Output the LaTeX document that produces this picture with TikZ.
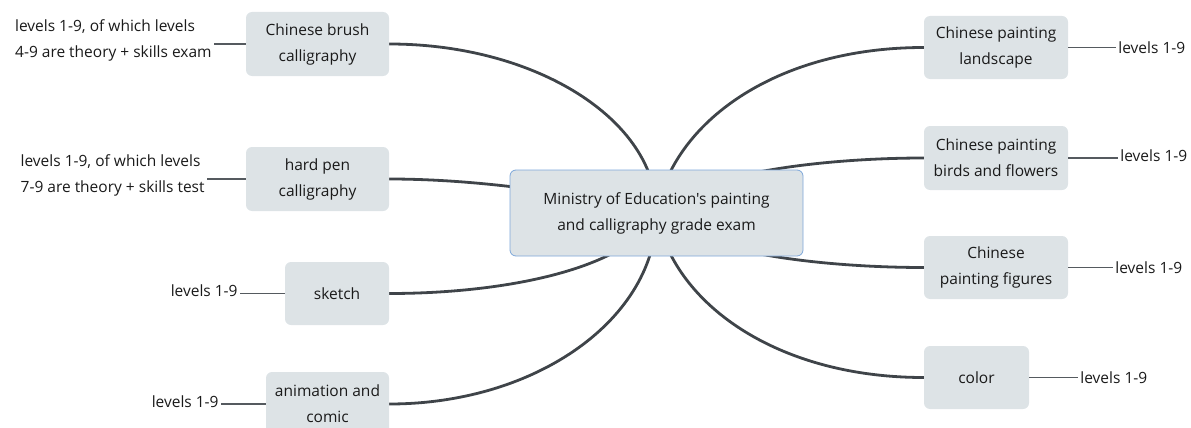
\documentclass[tikz,border=0pt]{standalone}
\usepackage{fontspec}
\setmainfont{Open Sans}[Ligatures=TeXOff]
\usetikzlibrary{positioning,backgrounds}

\definecolor{boxfill}{HTML}{DDE3E6}
\definecolor{rootline}{HTML}{7DA7D9}
\definecolor{branch}{HTML}{3F4449}
\definecolor{twig}{HTML}{555A5F}
\definecolor{ink}{HTML}{1A1A1A}

\tikzset{
  topicbox/.style={fill=boxfill, rounded corners=6pt, align=center, minimum height=64pt, text=ink, inner sep=2pt},
  rootbox/.style={topicbox, draw=rootline, line width=0.8pt, minimum width=293pt, minimum height=86pt},
  leafnote/.style={text=ink, align=left, inner sep=2pt},
  branchline/.style={draw=branch, line width=2.8pt},
  twigline/.style={draw=twig, line width=1.3pt},
}

\begin{document}
\begin{tikzpicture}[x=1pt,y=1pt,font=\fontsize{15.5}{26}\selectfont]
\useasboundingbox (0,0) rectangle (1191,-428);

% Centre
\node[rootbox] (exam) at (656.5,-213) {Ministry of Education's painting\\and calligraphy grade exam};

% Left topics
\node[topicbox, minimum width=143pt] (brush) at (317.5,-44) {Chinese brush\\calligraphy};
\node[topicbox, minimum width=143pt] (hardpen) at (317.5,-179) {hard pen\\calligraphy};
\node[topicbox, minimum width=104pt, minimum height=63pt] (sketch) at (337,-293.5) {sketch};
\node[topicbox, minimum width=123pt] (anim) at (327.5,-404) {animation and\\comic};

% Right topics
\node[topicbox, minimum width=144pt, minimum height=63pt] (landscape) at (996,-47.5) {Chinese painting\\landscape};
\node[topicbox, minimum width=144pt] (birds) at (996,-158) {Chinese painting\\birds and flowers};
\node[topicbox, minimum width=144pt, minimum height=63pt] (figures) at (996,-267.5) {Chinese\\painting figures};
\node[topicbox, minimum width=105pt, minimum height=63pt] (color) at (976.5,-377.5) {color};

% Left notes
\node[leafnote, left=32pt of brush, yshift=4pt] (brushnote) {levels 1-9, of which levels\\4-9 are theory + skills exam};
\node[leafnote, left=39pt of hardpen, yshift=4pt] (hardpennote) {levels 1-9, of which levels\\7-9 are theory + skills test};
\node[leafnote, left=45pt of sketch, yshift=3pt] (sketchnote) {levels 1-9};
\node[leafnote, left=45pt of anim, yshift=2pt] (animnote) {levels 1-9};

% Right notes
\node[leafnote, right=48pt of landscape] (landscapenote) {levels 1-9};
\node[leafnote, right=50pt of birds, yshift=2pt] (birdsnote) {levels 1-9};
\node[leafnote, right=45pt of figures] (figuresnote) {levels 1-9};
\node[leafnote, right=49pt of color] (colornote) {levels 1-9};

% Connectors
\begin{pgfonlayer}{background}
\draw[branchline] (exam.center) to[out=90, in=0, out distance=93pt, in distance=147pt] (brush.east);
\draw[branchline] (exam.center) to[out=165, in=0, out distance=60pt, in distance=100pt] (hardpen.east);
\draw[branchline] (exam.center) to[out=245, in=0, out distance=60pt, in distance=120pt] (sketch.east);
\draw[branchline] (exam.center) to[out=-90, in=0, out distance=105pt, in distance=148pt] (anim.east);
\draw[branchline] (exam.center) to[out=80, in=180, out distance=92pt, in distance=148pt] (landscape.west);
\draw[branchline] (exam.center) to[out=45, in=180, out distance=60pt, in distance=90pt] (birds.west);
\draw[branchline] (exam.center) to[out=-45, in=180, out distance=60pt, in distance=90pt] (figures.west);
\draw[branchline] (exam.center) to[out=-80, in=180, out distance=91pt, in distance=148pt] (color.west);
\end{pgfonlayer}

\draw[twigline] (brush.west) -- (brush.west -| brushnote.east);
\draw[twigline] (hardpen.west) -- (hardpen.west -| hardpennote.east);
\draw[twigline] (sketch.west) -- (sketch.west -| sketchnote.east);
\draw[twigline] (anim.west) -- (anim.west -| animnote.east);
\draw[twigline] (landscape.east) -- (landscape.east -| landscapenote.west);
\draw[twigline] (birds.east) -- (birds.east -| birdsnote.west);
\draw[twigline] (figures.east) -- (figures.east -| figuresnote.west);
\draw[twigline] (color.east) -- (color.east -| colornote.west);
\end{tikzpicture}
\end{document}
